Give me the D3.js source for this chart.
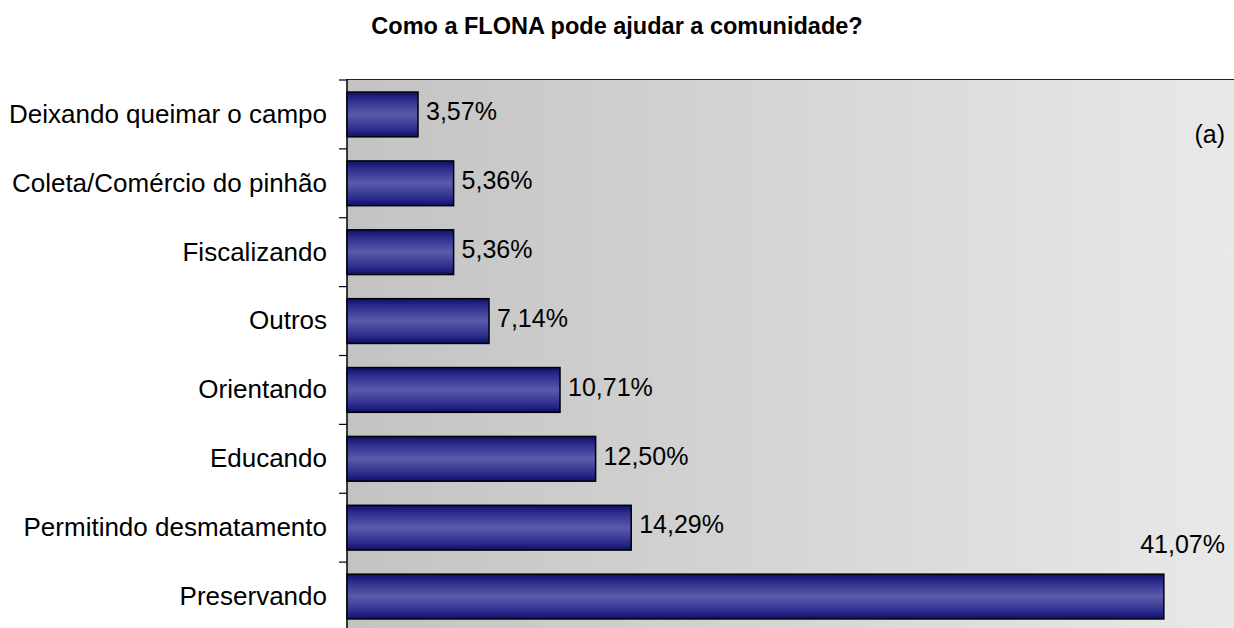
<!DOCTYPE html>
<html>
<head>
<meta charset="utf-8">
<script src="https://cdn.jsdelivr.net/npm/d3@7"></script>
<style>
  body { margin: 0; background: #fff; }
  text { font-family: "Liberation Sans", Arial, sans-serif; fill: #000; }
</style>
</head>
<body>
<svg id="chart" width="1234" height="628"></svg>
<script>
const categories = [
  "Deixando queimar o campo",
  "Coleta/Comércio do pinhão",
  "Fiscalizando",
  "Outros",
  "Orientando",
  "Educando",
  "Permitindo desmatamento",
  "Preservando"
];
const percentages = [3.57, 5.36, 5.36, 7.14, 10.71, 12.5, 14.29, 41.07];
const chartTitle = "Como a FLONA pode ajudar a comunidade?";
const panelTag = "(a)";

const W = 1234, H = 628;
const PLOT = { left: 347, top: 80, right: 1242, bottom: 631 };

const svg = d3.select("#chart");
const defs = svg.append("defs");

// background of plot area: grey, lighter to the right
const bg = defs.append("linearGradient").attr("id", "plotBg")
  .attr("x1", "0%").attr("x2", "100%").attr("y1", "0%").attr("y2", "0%");
bg.append("stop").attr("offset", "0%").attr("stop-color", "#c3c3c3");
bg.append("stop").attr("offset", "100%").attr("stop-color", "#e9e9e9");

// bar fill: dark navy edges, lighter centre
const barGrad = defs.append("linearGradient").attr("id", "barFill")
  .attr("x1", "0%").attr("x2", "0%").attr("y1", "0%").attr("y2", "100%");
[["0%", "#0e0e6c"], ["18%", "#2e2e8e"], ["50%", "#5b5bab"], ["82%", "#2e2e8e"], ["100%", "#0e0e6c"]]
  .forEach(([o, c]) => barGrad.append("stop").attr("offset", o).attr("stop-color", c));

const x = d3.scaleLinear().domain([0, 45]).range([PLOT.left, PLOT.right]);
const y = d3.scaleBand().domain(categories)
  .range([PLOT.top, PLOT.bottom])
  .paddingInner(0.35).paddingOuter(0.175);

// plot area
svg.append("rect")
  .attr("x", PLOT.left).attr("y", PLOT.top)
  .attr("width", PLOT.right - PLOT.left).attr("height", PLOT.bottom - PLOT.top)
  .attr("fill", "url(#plotBg)");

// top border of plot area
svg.append("line")
  .attr("x1", PLOT.left).attr("x2", PLOT.right)
  .attr("y1", PLOT.top - 0.5).attr("y2", PLOT.top - 0.5)
  .attr("stroke", "#222").attr("stroke-width", 1);

// title
svg.append("text")
  .attr("x", W / 2).attr("y", 34)
  .attr("text-anchor", "middle")
  .style("font-size", "23.5px").style("font-weight", "bold")
  .text(chartTitle);

// category labels
const yAxis = svg.append("g")
  .attr("transform", `translate(${PLOT.left},0)`)
  .call(d3.axisLeft(y).tickSize(0).tickPadding(20));
yAxis.select(".domain").remove();
yAxis.selectAll("text")
  .style("font-size", "26px")
  .style("font-family", "'Liberation Sans', Arial, sans-serif")
  .attr("fill", "#000");

// axis line and ticks at category boundaries
const half = (y.step() - y.bandwidth()) / 2;
const boundaries = categories.map(c => y(c) - half).concat([y(categories[categories.length - 1]) + y.bandwidth() + half]);
svg.append("line")
  .attr("x1", PLOT.left).attr("x2", PLOT.left)
  .attr("y1", PLOT.top - 1).attr("y2", PLOT.bottom)
  .attr("stroke", "#000").attr("stroke-width", 1.5);
svg.selectAll(".ytick").data(boundaries).enter()
  .append("line").attr("class", "ytick")
  .attr("x1", PLOT.left - 8).attr("x2", PLOT.left)
  .attr("y1", d => d).attr("y2", d => d)
  .attr("stroke", "#000").attr("stroke-width", 1.2);

// bars
const rows = categories.map((c, i) => ({ cat: c, val: percentages[i] }));
svg.selectAll(".bar").data(rows).enter()
  .append("rect").attr("class", "bar")
  .attr("x", x(0))
  .attr("y", d => y(d.cat))
  .attr("width", d => x(d.val) - x(0))
  .attr("height", y.bandwidth())
  .attr("fill", "url(#barFill)")
  .attr("stroke", "#000").attr("stroke-width", 1.5);

// value labels
const fmt = v => d3.format(".2f")(v).replace(".", ",") + "%";
const labelRight = W - 9;
svg.selectAll(".vlabel").data(rows).enter()
  .append("text").attr("class", "vlabel")
  .style("font-size", "25px")
  .each(function (d) {
    const t = d3.select(this).text(fmt(d.val));
    const w = this.getComputedTextLength();
    if (x(d.val) + 8 + w > labelRight) {
      t.attr("x", labelRight).attr("y", y(d.cat) - 21).attr("text-anchor", "end");
    } else {
      t.attr("x", x(d.val) + 8).attr("y", y(d.cat) + y.bandwidth() / 2 - 3).attr("dy", "0.35em");
    }
  });

// panel tag
svg.append("text")
  .attr("x", labelRight).attr("y", 143)
  .attr("text-anchor", "end")
  .style("font-size", "25px")
  .text(panelTag);
</script>
</body>
</html>
